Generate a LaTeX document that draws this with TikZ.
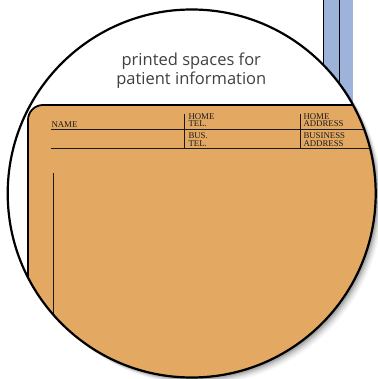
\documentclass[tikz,border=0pt]{standalone}
\usepackage{fontspec}
\setmainfont{Liberation Serif}
\newfontfamily\lensfont{Open Sans}
\definecolor{cardorange}{RGB}{227,168,98}
\definecolor{folderblue}{RGB}{158,179,218}
\begin{document}
\begin{tikzpicture}[x=1pt, y=-1pt, line width=1pt,
  formtext/.style={font=\fontsize{8.8}{8}\selectfont, inner sep=0pt, text=black!90, anchor=base west},
  lenstext/.style={font=\lensfont\fontsize{16.5}{19}\selectfont, inner sep=0pt, text=black!75, anchor=base},
  formrule/.style={line width=1pt, black!90}]
\useasboundingbox (0,0) rectangle (377,379);

% folder sticking out behind the lens
\fill[folderblue] (323,-5) rectangle (353,220);
\draw (323,-5) -- (323,220)
      (339,-5) -- (339,220);

% soft shadow
\foreach \s/\o in {1/0.14, 2/0.11, 3/0.09, 4/0.07, 5/0.05, 6/0.04, 7/0.03} {
  \fill[black, opacity=\o] (191.7+\s,193.5+\s) circle (184);
}

\begin{scope}
  \clip (191.7,193.5) circle (184);
  \fill[white] (191.7,193.5) circle (184);
  % record card
  \fill[cardorange, rounded corners=15] (28,105) rectangle (430,430);
  \draw[line width=1.8pt, rounded corners=15] (28,430) -- (28,105) -- (430,105);

  \draw[formrule]
    (51,130) -- (430,130)
    (51,149) -- (430,149)
    (184.5,114) -- (184.5,149)
    (300.5,114) -- (300.5,149)
    (53,173) -- (53,430);

  \node[formtext] (name) at (51,128) {NAME};
  \node[formtext] (hometel) at (188,119.5) {HOME};
  \node[formtext] (hometelb) at (188,126.8) {TEL.};
  \node[formtext] (bustel) at (188,139) {BUS.};
  \node[formtext] (bustelb) at (188,147) {TEL.};
  \node[formtext] (homeaddr) at (303,119.5) {HOME};
  \node[formtext] (homeaddrb) at (303,126.8) {ADDRESS};
  \node[formtext] (busaddr) at (303,139) {BUSINESS};
  \node[formtext] (busaddrb) at (303,147) {ADDRESS};
\end{scope}

\draw[line width=2.2pt] (191.7,193.5) circle (184);

\node[lenstext] (captiontop) at (191.3,66) {printed spaces for};
\node[lenstext] (captionbottom) at (191.3,85) {patient information};
\end{tikzpicture}
\end{document}
